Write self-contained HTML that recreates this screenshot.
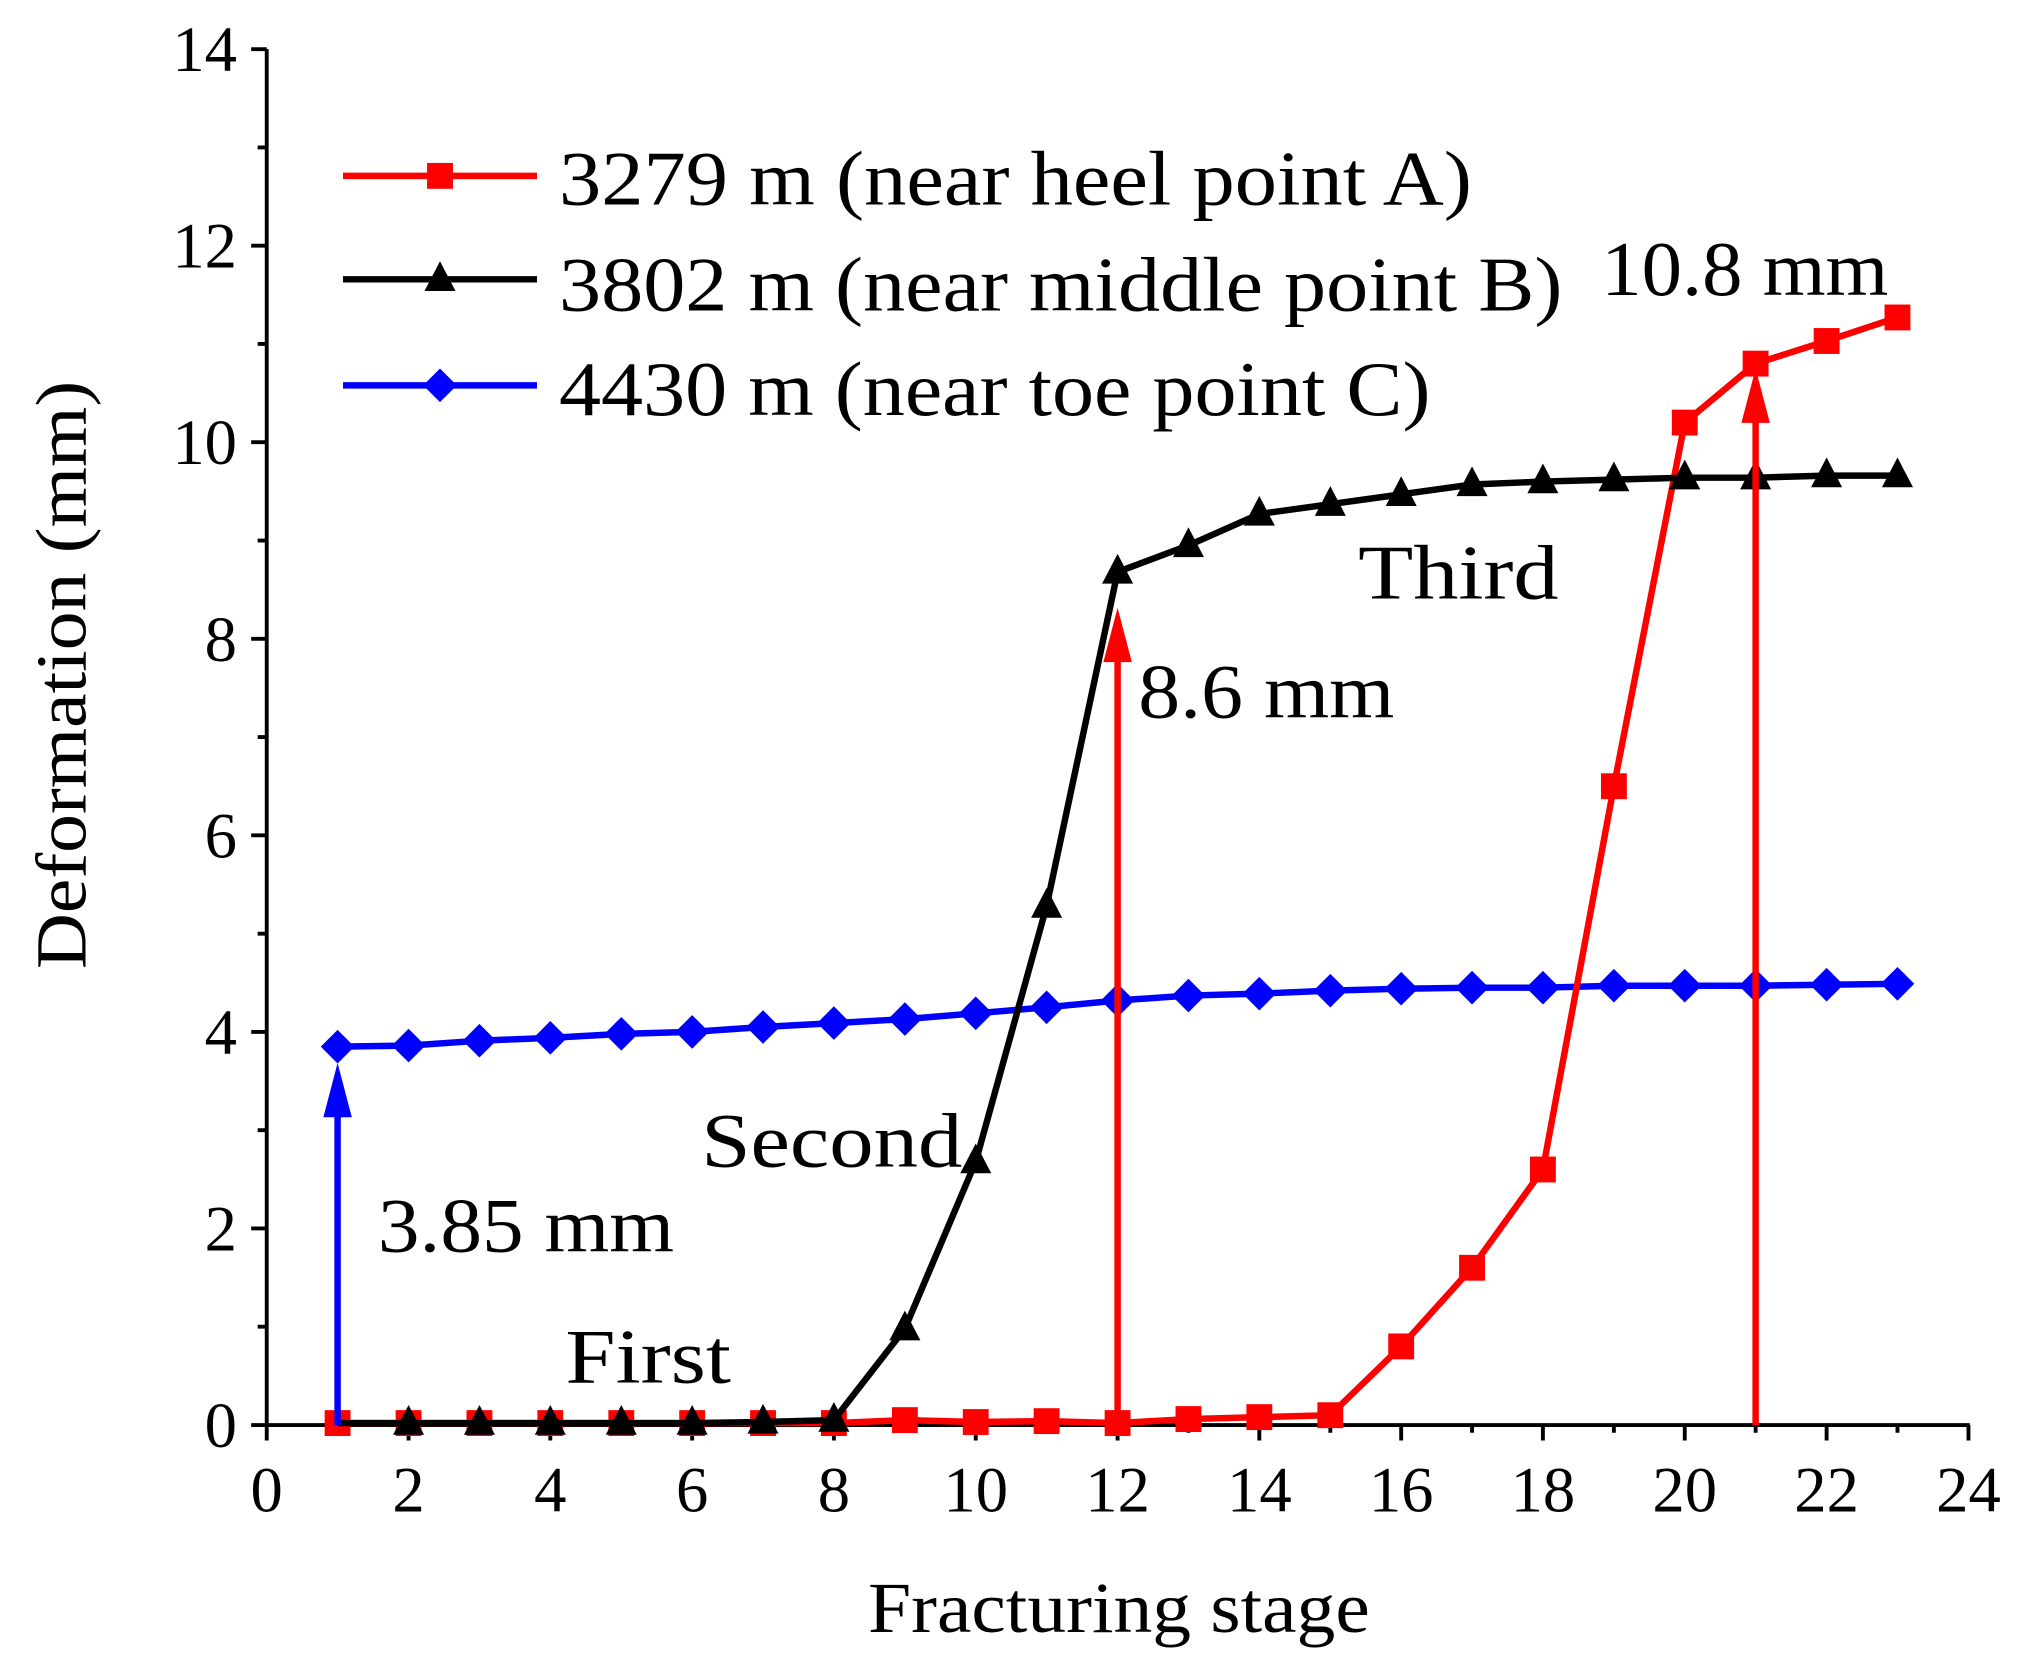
<!DOCTYPE html>
<html><head><meta charset="utf-8"><style>html,body{margin:0;padding:0;background:#fff}svg{display:block}text{font-family:"Liberation Serif",serif;fill:#000}</style></head>
<body>
<svg width="2027" height="1672" viewBox="0 0 1567 1293" xmlns="http://www.w3.org/2000/svg">
<defs>
<rect id="sq" x="-10" y="-10" width="20" height="20" fill="#f00"/>
<polygon id="tr" points="0,-14 12,9 -12,9" fill="#000"/>
<polygon id="dm" points="0,-13 13,0 0,13 -13,0" fill="#00f"/>
</defs>
<g stroke="#000" stroke-width="3" fill="none">
<line x1="206" y1="38" x2="206" y2="1103"/>
<line x1="205" y1="1102" x2="1523" y2="1102"/>
<path d="M194 1102H206M194 950H206M194 798H206M194 646H206M194 494H206M194 342H206M194 190H206M194 38H206
M199 1026H206M199 874H206M199 722H206M199 570H206M199 418H206M199 266H206M199 114H206
M206 1102V1114M315.7 1102V1114M425.3 1102V1114M535 1102V1114M644.6 1102V1114M754.3 1102V1114M864 1102V1114M973.6 1102V1114M1083.3 1102V1114M1192.9 1102V1114M1302.6 1102V1114M1412.3 1102V1114M1522 1102V1114
M260.8 1102V1108M370.5 1102V1108M480.2 1102V1108M589.8 1102V1108M699.5 1102V1108M809.1 1102V1108M918.8 1102V1108M1028.5 1102V1108M1138.1 1102V1108M1247.8 1102V1108M1357.4 1102V1108M1467.1 1102V1108"/>
</g>
<g font-size="50" text-anchor="end">
<text x="183" y="1119">0</text><text x="183" y="967">2</text><text x="183" y="815">4</text><text x="183" y="663">6</text><text x="183" y="511">8</text><text x="183" y="359">10</text><text x="183" y="207">12</text><text x="183" y="55">14</text>
</g>
<g font-size="50" text-anchor="middle">
<text x="206" y="1169">0</text><text x="315.7" y="1169">2</text><text x="425.3" y="1169">4</text><text x="535" y="1169">6</text><text x="644.6" y="1169">8</text><text x="754.3" y="1169">10</text><text x="864" y="1169">12</text><text x="973.6" y="1169">14</text><text x="1083.3" y="1169">16</text><text x="1192.9" y="1169">18</text><text x="1302.6" y="1169">20</text><text x="1412.3" y="1169">22</text><text x="1522" y="1169">24</text>
</g>
<text x="865" y="1262" font-size="56" text-anchor="middle" textLength="388" lengthAdjust="spacingAndGlyphs">Fracturing stage</text>
<text transform="translate(66,522) rotate(-90)" font-size="56" text-anchor="middle" textLength="455" lengthAdjust="spacingAndGlyphs">Deformation (mm)</text>
<g font-size="60">
<text x="432" y="158" textLength="706" lengthAdjust="spacingAndGlyphs">3279 m (near heel point A)</text>
<text x="432" y="240" textLength="776" lengthAdjust="spacingAndGlyphs">3802 m (near middle point B)</text>
<text x="432" y="321" textLength="674" lengthAdjust="spacingAndGlyphs">4430 m (near toe point C)</text>
<text x="1238" y="228" textLength="222" lengthAdjust="spacingAndGlyphs">10.8 mm</text>
<text x="1050" y="463" textLength="155" lengthAdjust="spacingAndGlyphs">Third</text>
<text x="880" y="555" textLength="198" lengthAdjust="spacingAndGlyphs">8.6 mm</text>
<text x="542" y="902" textLength="202" lengthAdjust="spacingAndGlyphs">Second</text>
<text x="292" y="968" textLength="229" lengthAdjust="spacingAndGlyphs">3.85 mm</text>
<text x="437" y="1069" textLength="128" lengthAdjust="spacingAndGlyphs">First</text>
</g>
<line x1="265" y1="136" x2="415" y2="136" stroke="#f00" stroke-width="5"/><use href="#sq" x="340" y="136"/>
<line x1="265" y1="216" x2="415" y2="216" stroke="#000" stroke-width="5"/><use href="#tr" x="340" y="216"/>
<line x1="265" y1="298" x2="415" y2="298" stroke="#00f" stroke-width="5"/><use href="#dm" x="340" y="298"/>

<polyline fill="none" stroke="#00f" stroke-width="5" points="260.8,809.4 315.7,808.6 370.5,804.8 425.3,802.6 480.2,799.5 535,798 589.8,794.2 644.6,791.2 699.5,788.1 754.3,783.6 809.1,779 864,773.7 918.8,769.9 973.6,768.4 1028.5,766.1 1083.3,764.6 1138.1,763.8 1192.9,763.8 1247.8,762.3 1302.6,762.3 1357.4,762.3 1412.3,761.5 1467.1,760.8"/>
<g>
<use href="#dm" x="260.8" y="809.4"/><use href="#dm" x="315.7" y="808.6"/><use href="#dm" x="370.5" y="804.8"/><use href="#dm" x="425.3" y="802.6"/><use href="#dm" x="480.2" y="799.5"/><use href="#dm" x="535" y="798"/><use href="#dm" x="589.8" y="794.2"/><use href="#dm" x="644.6" y="791.2"/><use href="#dm" x="699.5" y="788.1"/><use href="#dm" x="754.3" y="783.6"/><use href="#dm" x="809.1" y="779"/><use href="#dm" x="864" y="773.7"/><use href="#dm" x="918.8" y="769.9"/><use href="#dm" x="973.6" y="768.4"/><use href="#dm" x="1028.5" y="766.1"/><use href="#dm" x="1083.3" y="764.6"/><use href="#dm" x="1138.1" y="763.8"/><use href="#dm" x="1192.9" y="763.8"/><use href="#dm" x="1247.8" y="762.3"/><use href="#dm" x="1302.6" y="762.3"/><use href="#dm" x="1357.4" y="762.3"/><use href="#dm" x="1412.3" y="761.5"/><use href="#dm" x="1467.1" y="760.8"/>
</g>
<polyline fill="none" stroke="#f00" stroke-width="5" points="260.8,1100.5 315.7,1100.5 370.5,1100.5 425.3,1100.5 480.2,1100.5 535,1100.5 589.8,1100.5 644.6,1100.5 699.5,1098.2 754.3,1099.7 809.1,1099 864,1100.5 918.8,1097.4 973.6,1095.9 1028.5,1094.4 1083.3,1041.2 1138.1,980.4 1192.9,904.4 1247.8,608 1302.6,326.8 1357.4,281.2 1412.3,263.7 1467.1,245.5"/>
<g>
<use href="#sq" x="260.8" y="1100.5"/><use href="#sq" x="315.7" y="1100.5"/><use href="#sq" x="370.5" y="1100.5"/><use href="#sq" x="425.3" y="1100.5"/><use href="#sq" x="480.2" y="1100.5"/><use href="#sq" x="535" y="1100.5"/><use href="#sq" x="589.8" y="1100.5"/><use href="#sq" x="644.6" y="1100.5"/><use href="#sq" x="699.5" y="1098.2"/><use href="#sq" x="754.3" y="1099.7"/><use href="#sq" x="809.1" y="1099"/><use href="#sq" x="864" y="1100.5"/><use href="#sq" x="918.8" y="1097.4"/><use href="#sq" x="973.6" y="1095.9"/><use href="#sq" x="1028.5" y="1094.4"/><use href="#sq" x="1083.3" y="1041.2"/><use href="#sq" x="1138.1" y="980.4"/><use href="#sq" x="1192.9" y="904.4"/><use href="#sq" x="1247.8" y="608"/><use href="#sq" x="1302.6" y="326.8"/><use href="#sq" x="1357.4" y="281.2"/><use href="#sq" x="1412.3" y="263.7"/><use href="#sq" x="1467.1" y="245.5"/>
</g>
<polyline fill="none" stroke="#000" stroke-width="5" points="260.8,1100.5 315.7,1100.5 370.5,1100.5 425.3,1100.5 480.2,1100.5 535,1100.5 589.8,1099.7 644.6,1098.2 699.5,1027.5 754.3,898.3 809.1,700.7 864,442.3 918.8,421.8 973.6,397.5 1028.5,389.9 1083.3,382.3 1138.1,374.7 1192.9,372.4 1247.8,370.9 1302.6,369.4 1357.4,369.4 1412.3,367.8 1467.1,367.8"/>
<g>
<use href="#tr" x="315.7" y="1100.5"/><use href="#tr" x="370.5" y="1100.5"/><use href="#tr" x="425.3" y="1100.5"/><use href="#tr" x="480.2" y="1100.5"/><use href="#tr" x="535" y="1100.5"/><use href="#tr" x="589.8" y="1099.7"/><use href="#tr" x="644.6" y="1098.2"/><use href="#tr" x="699.5" y="1027.5"/><use href="#tr" x="754.3" y="898.3"/><use href="#tr" x="809.1" y="700.7"/><use href="#tr" x="864" y="442.3"/><use href="#tr" x="918.8" y="421.8"/><use href="#tr" x="973.6" y="397.5"/><use href="#tr" x="1028.5" y="389.9"/><use href="#tr" x="1083.3" y="382.3"/><use href="#tr" x="1138.1" y="374.7"/><use href="#tr" x="1192.9" y="372.4"/><use href="#tr" x="1247.8" y="370.9"/><use href="#tr" x="1302.6" y="369.4"/><use href="#tr" x="1357.4" y="369.4"/><use href="#tr" x="1412.3" y="367.8"/><use href="#tr" x="1467.1" y="367.8"/>
</g>
<line x1="260.8" y1="1102" x2="260.8" y2="850" stroke="#00f" stroke-width="5"/><polygon points="260.8,822 271.8,864 249.8,864" fill="#00f"/>
<line x1="864" y1="1102" x2="864" y2="500" stroke="#f00" stroke-width="5"/><polygon points="864,470 875,512 853,512" fill="#f00"/>
<line x1="1357.4" y1="1102" x2="1357.4" y2="315" stroke="#f00" stroke-width="5"/><polygon points="1357.4,285 1368.4,327 1346.4,327" fill="#f00"/>
</svg>
</body></html>
